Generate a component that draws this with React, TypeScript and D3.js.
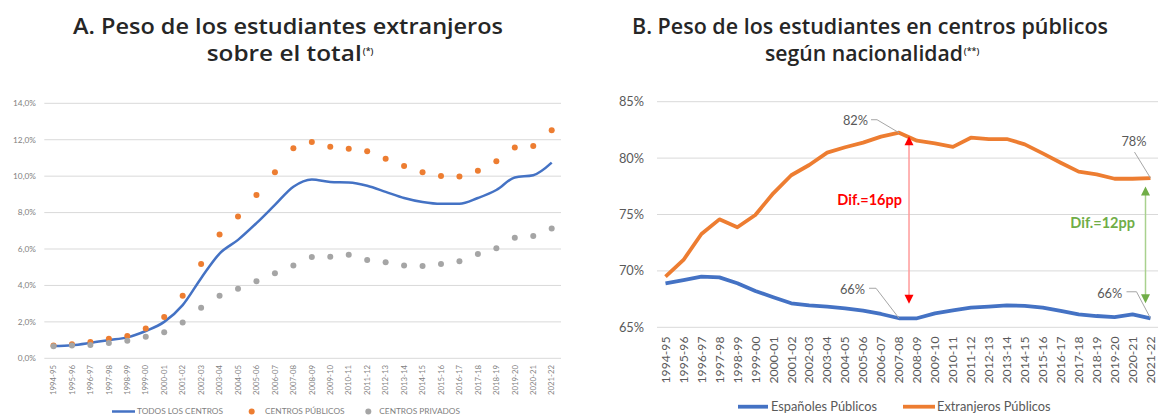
import React from "react";
import * as d3 from "d3";

const years = [
  "1994-95","1995-96","1996-97","1997-98","1998-99","1999-00","2000-01","2001-02","2002-03","2003-04",
  "2004-05","2005-06","2006-07","2007-08","2008-09","2009-10","2010-11","2011-12","2012-13","2013-14",
  "2014-15","2015-16","2016-17","2017-18","2018-19","2019-20","2020-21","2021-22",
];

// Chart A (% of foreign students)
const todosCentros = [0.67,0.72,0.85,1.0,1.15,1.5,2.0,2.92,4.4,5.75,6.5,7.42,8.42,9.42,9.82,9.68,9.65,9.47,9.14,8.8,8.58,8.48,8.48,8.8,9.24,9.93,10.05,10.74];
const centrosPublicos = [0.7,0.77,0.9,1.08,1.22,1.63,2.27,3.44,5.18,6.8,7.78,8.97,10.21,11.53,11.88,11.62,11.51,11.37,10.96,10.56,10.21,10.01,9.98,10.3,10.82,11.57,11.66,12.52];
const centrosPrivados = [0.66,0.7,0.73,0.84,0.97,1.19,1.43,1.96,2.78,3.44,3.82,4.23,4.67,5.1,5.56,5.58,5.69,5.4,5.27,5.1,5.07,5.18,5.33,5.73,6.04,6.62,6.71,7.12];
const ticksA = [0, 2, 4, 6, 8, 10, 12, 14];

// Chart B (% in public schools)
const espanolesPublicos = [68.9,69.19,69.49,69.43,68.9,68.22,67.66,67.13,66.95,66.83,66.68,66.47,66.18,65.8,65.8,66.24,66.5,66.74,66.83,66.95,66.9,66.75,66.45,66.15,66.0,65.91,66.15,65.8];
const extranjerosPublicos = [69.49,70.97,73.27,74.57,73.87,74.96,76.88,78.48,79.39,80.48,80.96,81.37,81.9,82.25,81.54,81.3,81.0,81.81,81.69,81.69,81.22,80.42,79.59,78.8,78.56,78.17,78.17,78.23];
const ticksB = [65, 70, 75, 80, 85];

const BLUE = "#4472C4";
const ORANGE = "#ED7D31";
const GRAY = "#A5A5A5";
const GRID = "#D9D9D9";
const TXT = "#595959";
const FONT = "Lato, 'Open Sans', sans-serif";
const TITLE_FONT = "'Open Sans', Lato, sans-serif";

export default function App() {
  // ---------- Chart A scales
  const xA = d3.scalePoint<string>().domain(years).range([53.5, 551.7]);
  const yA = d3.scaleLinear().domain([0, 14]).range([358.3, 103.3]);
  const lineA = d3
    .line<number>()
    .x((_, i) => xA(years[i]) as number)
    .y((d) => yA(d))
    .curve(d3.curveMonotoneX);

  // ---------- Chart B scales
  const xB = d3.scalePoint<string>().domain(years).range([665.5, 1150.5]);
  const yB = d3.scaleLinear().domain([65, 85]).range([327.3, 101.7]);
  const lineB = d3
    .line<number>()
    .x((_, i) => xB(years[i]) as number)
    .y((d) => yB(d));

  const fmtA = (v: number) => v.toFixed(1).replace(".", ",") + "%";

  const i0708 = years.indexOf("2007-08");
  const iLast = years.length - 1;
  const px0708 = xB(years[i0708]) as number;
  const pxLast = xB(years[iLast]) as number;
  const yOr0708 = yB(extranjerosPublicos[i0708]);
  const yBl0708 = yB(espanolesPublicos[i0708]);
  const yOrLast = yB(extranjerosPublicos[iLast]);
  const yBlLast = yB(espanolesPublicos[iLast]);

  const redX = px0708 + 10;
  const greenX = pxLast - 5;

  const arrow = (x: number, y1: number, y2: number, line: string, head: string) => (
    <g>
      <line x1={x} x2={x} y1={y1 + 8} y2={y2 - 8} stroke={line} strokeWidth={1.5} />
      <path d={`M${x},${y1} L${x - 4.5},${y1 + 9} L${x + 4.5},${y1 + 9} Z`} fill={head} />
      <path d={`M${x},${y2} L${x - 4.5},${y2 - 9} L${x + 4.5},${y2 - 9} Z`} fill={head} />
    </g>
  );

  return (
    <svg
      width={1158}
      height={416}
      style={{ position: "absolute", left: 0, top: 0, background: "#fff" }}
      fontFamily={FONT}
    >
      <rect width={1158} height={416} fill="#fff" />

      {/* ---------------- Titles ---------------- */}
      <g fontWeight={600} fill="#262626" fontSize={21} fontFamily={TITLE_FONT}>
        <text x={288} y={34.3} textAnchor="middle" textLength={430} lengthAdjust="spacingAndGlyphs">
          A. Peso de los estudiantes extranjeros
        </text>
        <text x={206.7} y={60.6} textLength={155} lengthAdjust="spacingAndGlyphs">
          sobre el total
        </text>
        <text x={362.8} y={54} fontSize={9}>(*)</text>
        <text x={870} y={34.3} textAnchor="middle" textLength={476} lengthAdjust="spacingAndGlyphs">
          B. Peso de los estudiantes en centros públicos
        </text>
        <text x={765} y={60.6} textLength={198} lengthAdjust="spacingAndGlyphs">
          según nacionalidad
        </text>
        <text x={963.8} y={54} fontSize={9}>(**)</text>
      </g>

      {/* ---------------- Chart A ---------------- */}
      <g>
        {ticksA.map((t) => (
          <g key={t}>
            <line x1={44.3} x2={561} y1={yA(t)} y2={yA(t)} stroke={GRID} strokeWidth={1} />
            <text x={36} y={yA(t)} dy="0.35em" textAnchor="end" fontSize={8.3} fill="#7F7F7F">
              {fmtA(t)}
            </text>
          </g>
        ))}
        {years.map((yr) => (
          <text
            key={yr}
            transform={`translate(${xA(yr)},${365}) rotate(-90)`}
            textAnchor="end"
            dy="0.35em"
            fontSize={7.8}
            fill="#7F7F7F"
          >
            {yr}
          </text>
        ))}
        <path d={lineA(todosCentros) || ""} fill="none" stroke={BLUE} strokeWidth={2.5} />
        {centrosPublicos.map((v, i) => (
          <circle key={"p" + i} cx={xA(years[i])} cy={yA(v)} r={3} fill={ORANGE} />
        ))}
        {centrosPrivados.map((v, i) => (
          <circle key={"v" + i} cx={xA(years[i])} cy={yA(v)} r={3} fill={GRAY} />
        ))}
        {/* legend A */}
        <g fontSize={8.3} fill="#7F7F7F">
          <line x1={112} x2={135} y1={411.5} y2={411.5} stroke={BLUE} strokeWidth={2.5} />
          <text x={137} y={411.5} dy="0.35em">TODOS LOS CENTROS</text>
          <circle cx={251.7} cy={411.5} r={3} fill={ORANGE} />
          <text x={265} y={411.5} dy="0.35em">CENTROS PÚBLICOS</text>
          <circle cx={368.3} cy={411.5} r={3} fill={GRAY} />
          <text x={379.3} y={411.5} dy="0.35em">CENTROS PRIVADOS</text>
        </g>
      </g>

      {/* ---------------- Chart B ---------------- */}
      <g>
        {ticksB.map((t) => (
          <g key={t}>
            <line x1={657} x2={1158} y1={yB(t)} y2={yB(t)} stroke={GRID} strokeWidth={1} />
            <text x={644} y={yB(t)} dy="0.35em" textAnchor="end" fontSize={12.8} fill={TXT}>
              {t}%
            </text>
          </g>
        ))}
        {years.map((yr) => (
          <text
            key={yr}
            transform={`translate(${xB(yr)},${336.5}) rotate(-90)`}
            textAnchor="end"
            dy="0.35em"
            fontSize={12.2}
            fill={TXT}
          >
            {yr}
          </text>
        ))}
        <path d={lineB(espanolesPublicos) || ""} fill="none" stroke={BLUE} strokeWidth={3.8} strokeLinejoin="round" />
        <path d={lineB(extranjerosPublicos) || ""} fill="none" stroke={ORANGE} strokeWidth={3.8} strokeLinejoin="round" />

        {/* data labels with leader lines */}
        <g fontSize={12.8} fill={TXT}>
          <text x={868} y={yOr0708 - 12} dy="0.35em" textAnchor="end">82%</text>
          <polyline
            points={`${px0708 - 28},${yOr0708 - 13} ${px0708 - 22},${yOr0708 - 13} ${px0708},${yOr0708}`}
            fill="none"
            stroke="#A6A6A6"
            strokeWidth={1}
          />
          <text x={865} y={yBl0708 - 29} dy="0.35em" textAnchor="end">66%</text>
          <polyline
            points={`${px0708 - 30},${yBl0708 - 30} ${px0708 - 23},${yBl0708 - 30} ${px0708},${yBl0708}`}
            fill="none"
            stroke="#A6A6A6"
            strokeWidth={1}
          />
          <text x={1134} y={yOrLast - 36.5} dy="0.35em" textAnchor="middle">78%</text>
          <polyline
            points={`${pxLast - 16},${yOrLast - 26} ${pxLast},${yOrLast}`}
            fill="none"
            stroke="#A6A6A6"
            strokeWidth={1}
          />
          <text x={1122.3} y={yBlLast - 25} dy="0.35em" textAnchor="end">66%</text>
          <polyline
            points={`${pxLast - 24},${yBlLast - 26.5} ${pxLast - 14},${yBlLast - 26.5} ${pxLast},${yBlLast}`}
            fill="none"
            stroke="#A6A6A6"
            strokeWidth={1}
          />
        </g>

        {/* difference arrows */}
        {arrow(redX, yOr0708 + 3.5, yBl0708 - 14.5, "#FF9B9B", "#FF0000")}
        {arrow(greenX, yOrLast + 8.5, yBlLast - 15, "#A9D18E", "#70AD47")}
        <text x={902} y={200} dy="0.35em" textAnchor="end" fontSize={14.5} fontWeight={700} fill="#FF0000">
          Dif.=16pp
        </text>
        <text x={1135} y={222.7} dy="0.35em" textAnchor="end" fontSize={14.5} fontWeight={700} fill="#70AD47">
          Dif.=12pp
        </text>

        {/* legend B */}
        <g fontSize={12.8} fill={TXT}>
          <line x1={738} x2={768} y1={406.7} y2={406.7} stroke={BLUE} strokeWidth={3.8} />
          <text x={771} y={406.7} dy="0.35em">Españoles Públicos</text>
          <line x1={903} x2={935} y1={406.7} y2={406.7} stroke={ORANGE} strokeWidth={3.8} />
          <text x={937} y={406.7} dy="0.35em">Extranjeros Públicos</text>
        </g>
      </g>
    </svg>
  );
}
